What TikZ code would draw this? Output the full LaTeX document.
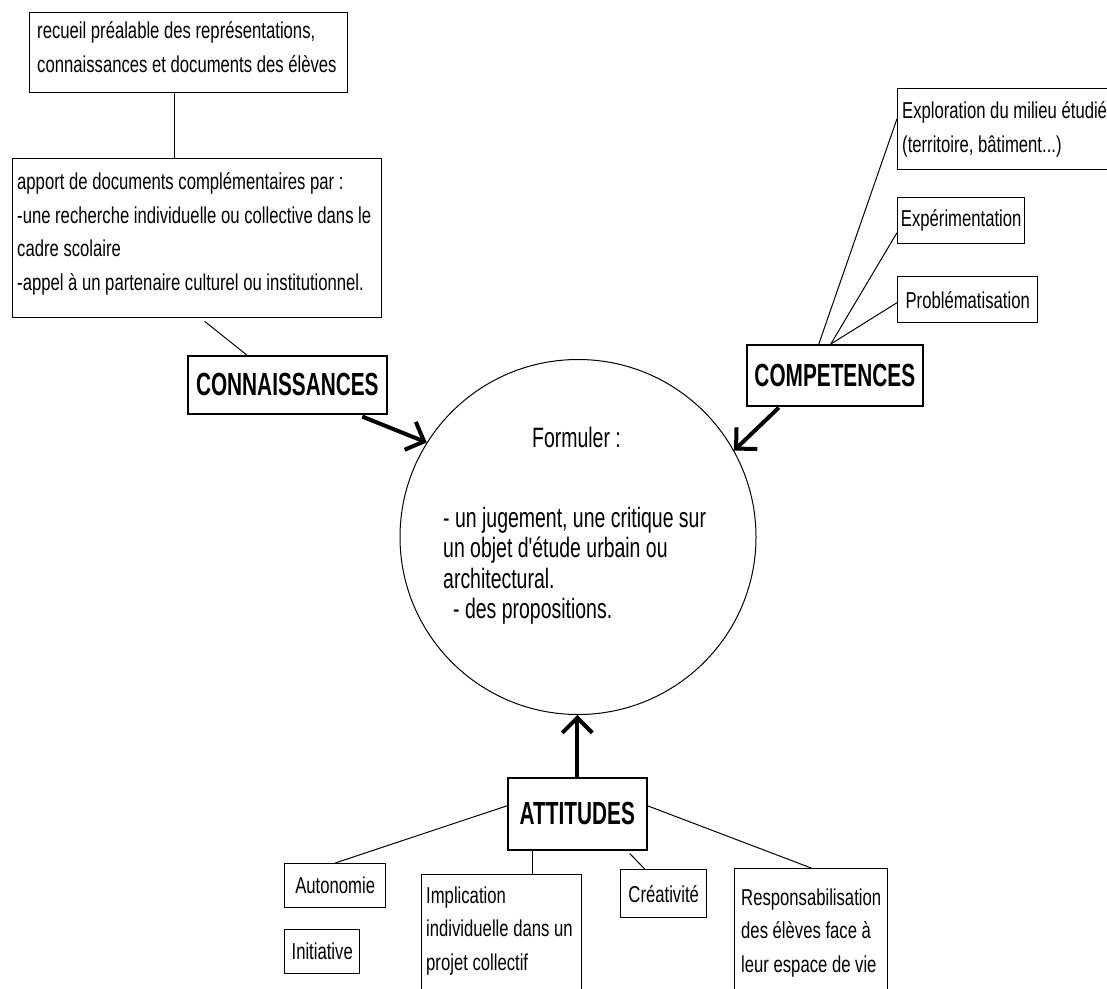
\documentclass[tikz,border=0pt]{standalone}
\usepackage{fontspec}
\setmainfont{Liberation Sans}[FakeStretch=0.725]
\newfontfamily\titrefont{Liberation Sans}[FakeStretch=0.65]
\newfontfamily\bullefont{Liberation Sans}[FakeStretch=0.695]
\usepackage{tikz}
\usetikzlibrary{shapes.geometric,arrows.meta}

\tikzset{
  boite/.style={draw, line width=1.4pt, anchor=north west, align=center,
    inner sep=0pt, font=\fontsize{23}{33.5}\selectfont},
  cadre/.style={draw, line width=1.4pt, anchor=north west, inner sep=0pt},
  texte/.style={anchor=north west, align=left, inner sep=0pt,
    font=\fontsize{23}{33.5}\selectfont},
  titre/.style={draw, line width=1.6pt, anchor=north west, inner sep=0pt,
    font=\titrefont\bfseries\fontsize{32}{36}\selectfont},
  lien/.style={line width=1pt},
  fleche/.style={line width=4pt, -{Straight Barb[length=15pt,width=30pt]}}
}

\begin{document}
\begin{tikzpicture}[x=1pt,y=-1pt]
                \useasboundingbox (0,0) rectangle (1107,988);
                \clip (0,0) rectangle (1107,988);

                % Connaissances
                \node[cadre, minimum width=318pt, minimum height=80pt] (recueil) at (29,12) {};
                \node[texte] (recueiltxt) at ([shift={(8pt,-9.5pt)}]recueil.north west)
                  {recueil préalable des représentations,\\connaissances et documents des élèves};
                \node[cadre, minimum width=369pt, minimum height=159pt] (apport) at (12,158) {};
                \node[texte] (apporttxt) at ([shift={(5pt,-14.5pt)}]apport.north west)
                  {apport de documents complémentaires par :\\-une recherche individuelle ou collective dans le\\cadre scolaire\\-appel à un partenaire culturel ou institutionnel.};
                \node[titre, minimum width=199pt, minimum height=58pt] (connaiss) at (187,355) {CONNAISSANCES};

                % Competences
                \node[cadre, minimum width=250pt, minimum height=81pt] (explo) at (897,88) {};
                \node[texte] (explotxt) at ([shift={(5pt,-13.5pt)}]explo.north west)
                  {Exploration du milieu étudié\\(territoire, bâtiment...)};
                \node[boite, minimum width=127pt, minimum height=46pt] (exper) at (897,197) {Expérimentation};
                \node[boite, minimum width=140pt, minimum height=46pt] (probl) at (897,276) {Problématisation};
                \node[titre, minimum width=176pt, minimum height=61pt] (competences) at (746,344) {COMPETENCES};

                % Formuler
                \node[ellipse, draw, line width=1pt, minimum width=356pt, minimum height=355pt, inner sep=0pt] (centre) at (578,537) {};
                \node[anchor=north west, align=left, inner sep=0pt, font=\bullefont\fontsize{28}{30.5}\selectfont] (formtext) at (443,427)
                  {\hspace*{89pt}Formuler :\\[49.5pt]- un jugement, une critique sur\\un objet d'étude urbain ou\\architectural.\\\hspace*{10pt}- des propositions.};

                % Attitudes
                \node[titre, minimum width=139pt, minimum height=72pt] (attitudes) at (507,777) {ATTITUDES};
                \node[boite, minimum width=101pt, minimum height=44pt] (autonomie) at (284,863) {Autonomie};
                \node[boite, minimum width=75pt, minimum height=44pt] (initiative) at (284,929) {Initiative};
                \node[cadre, minimum width=160pt, minimum height=150pt] (implication) at (421,874) {};
                \node[texte] (implitxt) at ([shift={(5pt,-12.5pt)}]implication.north west)
                  {Implication\\individuelle dans un\\projet collectif};
                \node[boite, minimum width=86pt, minimum height=48pt] (creativite) at (620,869) {Créativité};
                \node[cadre, minimum width=153pt, minimum height=150pt] (respons) at (734,868) {};
                \node[texte] (respontxt) at ([shift={(7pt,-20.5pt)}]respons.north west)
                  {Responsabilisation\\des élèves face à\\leur espace de vie};

                % liens
                \draw[lien] ([xshift=-14pt]recueil.south) -- ([xshift=-14pt]recueil.south |- apport.north);
                \draw[lien] ([xshift=7.5pt,yshift=-3pt]apport.south) -- ([xshift=-40.5pt]connaiss.north);
                \draw[lien] ([xshift=-16pt]competences.north) -- ([yshift=10.5pt]explo.west);
                \draw[lien] ([xshift=-4pt]competences.north) -- ([yshift=-12pt]exper.west);
                \draw[lien] ([xshift=-4pt]competences.north) -- ([yshift=-3pt]probl.west);
                \draw[lien] ([yshift=8pt]attitudes.west) -- (autonomie.north);
                \draw[lien] ([xshift=-44.5pt]attitudes.south) -- ([xshift=-44.5pt]attitudes.south |- implication.north);
                \draw[lien] ([xshift=52.5pt,yshift=-3pt]attitudes.south) -- ([xshift=-19pt]creativite.north);
                \draw[lien] ([yshift=8pt]attitudes.east) -- (respons.north);

                % fleches
                \draw[fleche] ([xshift=75pt,yshift=-2pt]connaiss.south) -- (centre.148.6);
                \draw[fleche] ([xshift=-56pt,yshift=-1pt]competences.south) -- (centre.29.4);
                \draw[fleche] (attitudes.north) -- (attitudes.north |- centre.south);

        \end{tikzpicture}
\end{document}
